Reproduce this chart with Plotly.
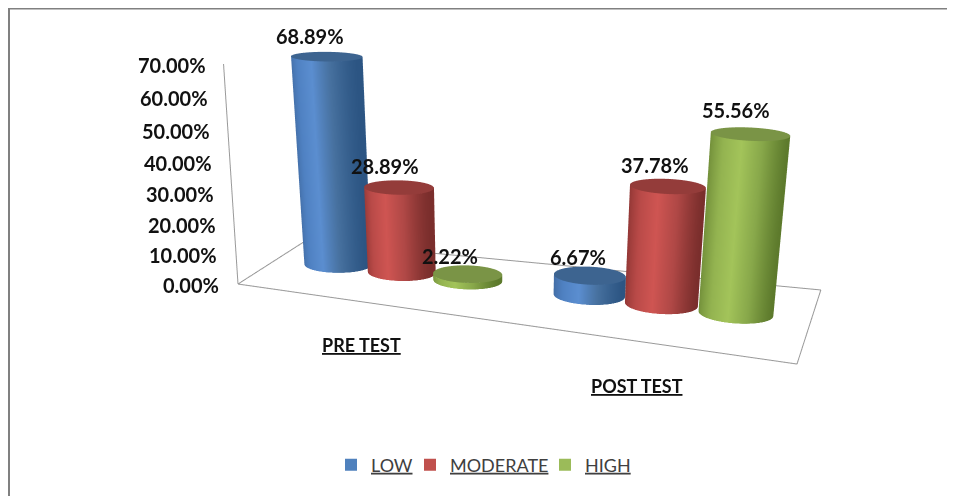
import numpy as np
import plotly.graph_objects as go

# ---- data ----
categories = ["PRE TEST", "POST TEST"]
series = ["LOW", "MODERATE", "HIGH"]
low = [68.89, 6.67]
moderate = [28.89, 37.78]
high = [2.22, 55.56]
tick_vals = [0, 10, 20, 30, 40, 50, 60, 70]

# ---- chart frame and camera (figure is larger than the window to narrow the view angle) ----
W, H = 1046, 1200
eye = (0.9065, -2.3194, 0.5489)
center = (0.0155, 0, -0.8112)
up_x = -0.0122
aspect_y, aspect_z = 0.2765, 0.3686
group_x = [0.2448, 0.7374]
step_x, depth_y = 0.1309, 0.5951
rx, ry = 0.063, 0.2
floor_x = [0.013, 1.019, 0.973, -0.023]
floor_y = [-0.068, -0.179, 1.304, 1.039]
wall_top_dx = 0.009

side_colors = [['#40699f', '#4f81c2', '#5b8ed0', '#47719f', '#2c5583'],
               ['#8d3533', '#b94a48', '#cf5552', '#b04846', '#7a2e2c'],
               ['#6f8c38', '#93b350', '#a3c45a', '#88a84a', '#5d7a2c']]
top_colors = ['#3d6490', '#943c3a', '#7a9446']
legend_colors = ['#4f81bd', '#c0504d', '#9bbb59']
legend_widths = [34, 90, 60]
label_xshift = [[-17, -14, -18], [-12, -13, -14]]
label_yshift = [[21, 21, 18], [19, 21, 24]]
cat_xshift = [6, 9]
cat_yshift = [-46, -51]
FONT = 'Lato'

values = [low, moderate, high]
px = lambda x: (x - 8) / W
py = lambda y: 1 - (y - 8) / H
th = np.linspace(0, 2 * np.pi, 73)
flat = dict(ambient=1, diffuse=0, specular=0, fresnel=0, roughness=1)

fig = go.Figure()
for g, gc in enumerate(group_x):
    for k in range(3):
        u = gc + (k - 1) * step_x
        zv = values[k][g]
        X = np.array([u + rx * np.cos(th)] * 2)
        Y = np.array([depth_y + ry * np.sin(th)] * 2)
        Z = np.array([np.zeros_like(th), np.full_like(th, zv)])
        fig.add_trace(go.Surface(x=X, y=Y, z=Z, surfacecolor=(np.cos(th) + 1) / 2 * np.ones((2, 1)),
                                 cmin=0, cmax=1, showscale=False,
                                 colorscale=[[i / 4, c] for i, c in enumerate(side_colors[k])],
                                 lighting=flat, hoverinfo='skip'))
        rr = np.array([0, 1.0])
        X = u + rx * np.outer(rr, np.cos(th))
        Y = depth_y + ry * np.outer(rr, np.sin(th))
        Z = np.full_like(X, zv)
        fig.add_trace(go.Surface(x=X, y=Y, z=Z, surfacecolor=np.zeros_like(X), cmin=0, cmax=1, showscale=False,
                                 colorscale=[[0, top_colors[k]], [1, top_colors[k]]],
                                 lighting=flat, hoverinfo='skip'))

frame = dict(color='#9a9a9a', width=2)
fig.add_trace(go.Scatter3d(x=floor_x + floor_x[:1], y=floor_y + floor_y[:1], z=[0] * 5, mode='lines',
                           line=frame, showlegend=False, hoverinfo='skip'))
fig.add_trace(go.Scatter3d(x=[floor_x[0], floor_x[0] + wall_top_dx], y=[floor_y[0], floor_y[0]], z=[0, 70],
                           mode='lines', line=frame, showlegend=False, hoverinfo='skip'))

for k in range(3):
    fig.add_trace(go.Scatter3d(x=[group_x[0] + (k - 1) * step_x], y=[depth_y], z=[1], mode='markers',
                               name=series[k], legendwidth=legend_widths[k],
                               marker=dict(symbol='square', size=2, color=legend_colors[k]), hoverinfo='skip'))

anns = []
for t in tick_vals:
    anns.append(dict(x=floor_x[0], y=floor_y[0], z=t, text='%.2f%%' % t, showarrow=False, xanchor='right',
                     xshift=-17 + 0.086 * t, yshift=-1,
                     font=dict(family=FONT, size=20, color='#111', weight='bold')))
for g, gc in enumerate(group_x):
    for k in range(3):
        anns.append(dict(x=gc + (k - 1) * step_x, y=depth_y, z=values[k][g], text='%.2f%%' % values[k][g],
                         showarrow=False, xshift=label_xshift[g][k], yshift=label_yshift[g][k],
                         font=dict(family=FONT, size=20, color='#111', weight='bold')))
    anns.append(dict(x=gc, y=floor_y[0], z=0, text=categories[g], showarrow=False,
                     xshift=cat_xshift[g], yshift=cat_yshift[g],
                     font=dict(family=FONT, size=18, color='#111', weight='bold', lineposition='under')))

border = dict(color='#808080', width=2)
fig.update_layout(
    width=W, height=H, margin=dict(l=0, r=0, t=0, b=0), paper_bgcolor='white', showlegend=True,
    scene=dict(domain=dict(x=[0, 1], y=[0, 1]), dragmode='orbit', aspectmode='manual',
               aspectratio=dict(x=1.4, y=1.8 * aspect_y, z=aspect_z),
               camera=dict(eye=dict(x=eye[0], y=eye[1], z=eye[2]),
                           center=dict(x=center[0], y=center[1], z=center[2]),
                           up=dict(x=up_x, y=0, z=1)),
               xaxis=dict(visible=False, range=[-.2, 1.2]),
               yaxis=dict(visible=False, range=[-.4, 1.4]),
               zaxis=dict(visible=False, range=[0, 70]),
               annotations=anns),
    legend=dict(orientation='h', x=px(331), y=py(465), xanchor='left', yanchor='middle', itemsizing='constant',
                font=dict(family=FONT, size=18, color='#404040', lineposition='under')),
    shapes=[dict(type='line', xref='paper', yref='paper', x0=px(9), x1=1, y0=py(8.5), y1=py(8.5), line=border),
            dict(type='line', xref='paper', yref='paper', x0=px(9), x1=px(9), y0=py(8), y1=py(496), line=border)])
fig.write_html("out.html")
